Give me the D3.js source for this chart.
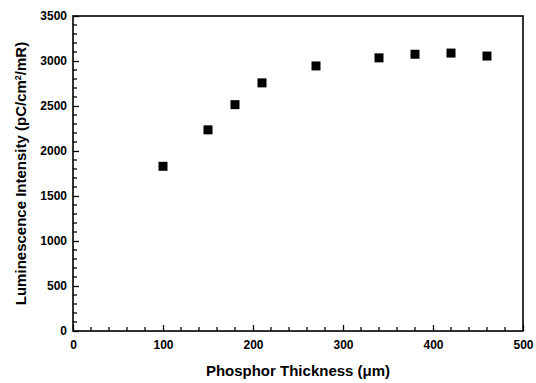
<!DOCTYPE html>
<html>
<head>
<meta charset="utf-8">
<script src="https://cdn.jsdelivr.net/npm/d3@7"></script>
<style>
  body { margin: 0; background: #fff; }
  svg { display: block; font-family: "Liberation Sans", Arial, sans-serif; }
  .tick text { font-size: 12px; font-weight: bold; fill: #000; }
  .axis-label { font-size: 15px; font-weight: bold; fill: #000; }
</style>
</head>
<body>
<div id="chart"></div>
<script>
// data
const thickness = [100, 150, 180, 210, 270, 340, 380, 420, 460];
const intensity = [1830, 2235, 2515, 2757, 2945, 3035, 3075, 3088, 3055];
const xTicks = [0, 100, 200, 300, 400, 500];
const yTicks = [0, 500, 1000, 1500, 2000, 2500, 3000, 3500];

const width = 536, height = 383;
const margin = {top: 16, right: 13, bottom: 52, left: 73};

const svg = d3.select('#chart').append('svg')
  .attr('width', width)
  .attr('height', height);

const x = d3.scaleLinear().domain([0, 500]).range([margin.left, width - margin.right]);
const y = d3.scaleLinear().domain([0, 3500]).range([height - margin.bottom, margin.top]);

// minor ticks
const xMinor = d3.range(0, 501, 20).filter(v => v % 100 !== 0);
const yMinor = d3.range(0, 3501, 100).filter(v => v % 500 !== 0);

// x axis
const xAxis = svg.append('g')
  .attr('transform', `translate(0,${y(0)})`)
  .call(d3.axisBottom(x).tickValues(xTicks).tickSize(-6).tickPadding(9).tickFormat(d3.format('d')));
xAxis.select('.domain').remove();
xAxis.selectAll('.tick line').attr('stroke', '#000').attr('stroke-width', 1.3);

svg.append('g')
  .attr('transform', `translate(0,${y(0)})`)
  .selectAll('line')
  .data(xMinor)
  .join('line')
  .attr('x1', d => x(d)).attr('x2', d => x(d))
  .attr('y1', 0).attr('y2', -4)
  .attr('stroke', '#000').attr('stroke-width', 1.3);

// y axis
const yAxis = svg.append('g')
  .attr('transform', `translate(${x(0)},0)`)
  .call(d3.axisLeft(y).tickValues(yTicks).tickSize(-6).tickPadding(6).tickFormat(d3.format('d')));
yAxis.select('.domain').remove();
yAxis.selectAll('.tick line').attr('stroke', '#000').attr('stroke-width', 1.3);

svg.append('g')
  .attr('transform', `translate(${x(0)},0)`)
  .selectAll('line')
  .data(yMinor)
  .join('line')
  .attr('x1', 0).attr('x2', 4)
  .attr('y1', d => y(d)).attr('y2', d => y(d))
  .attr('stroke', '#000').attr('stroke-width', 1.3);

// frame
svg.append('rect')
  .attr('x', x(0)).attr('y', y(3500))
  .attr('width', x(500) - x(0))
  .attr('height', y(0) - y(3500))
  .attr('fill', 'none')
  .attr('stroke', '#000')
  .attr('stroke-width', 1.6);

// points
const pts = thickness.map((t, i) => ({t: t, v: intensity[i]}));
const s = 9;
svg.append('g')
  .selectAll('rect')
  .data(pts)
  .join('rect')
  .attr('x', d => x(d.t) - s / 2)
  .attr('y', d => y(d.v) - s / 2)
  .attr('width', s)
  .attr('height', s)
  .attr('fill', '#000');

// axis labels
const xl = svg.append('text')
  .attr('class', 'axis-label')
  .attr('x', (x(0) + x(500)) / 2)
  .attr('y', height - 7)
  .attr('text-anchor', 'middle');
xl.append('tspan').text('Phosphor Thickness (');
xl.append('tspan').text('\u03bc');
xl.append('tspan').text('m)');

const yl = svg.append('text')
  .attr('class', 'axis-label')
  .attr('transform', `translate(26,${(y(0) + y(3500)) / 2}) rotate(-90)`)
  .attr('text-anchor', 'middle');
yl.append('tspan').text('Luminescence Intensity (pC/cm');
yl.append('tspan').attr('dy', -5).style('font-size', '9px').text('2');
yl.append('tspan').attr('dy', 5).text('/mR)');
</script>
</body>
</html>
